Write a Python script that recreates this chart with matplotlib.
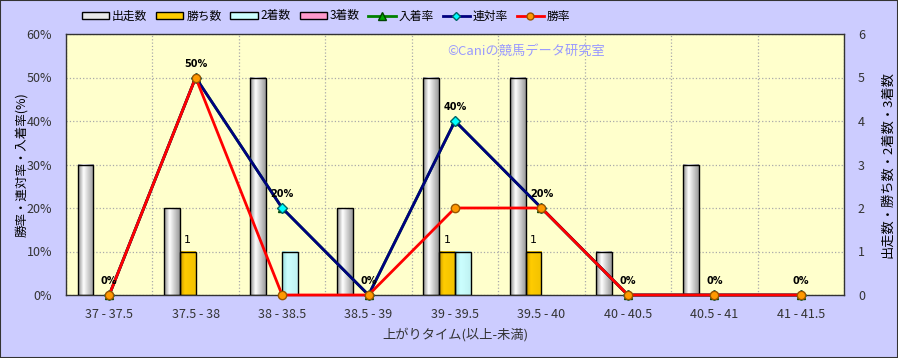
import matplotlib
matplotlib.use("Agg")
import matplotlib.pyplot as plt
import numpy as np
from matplotlib.colors import LinearSegmentedColormap
from matplotlib.patches import Rectangle, Patch
from matplotlib.lines import Line2D

plt.rcParams['font.family'] = ['Noto Sans CJK JP', 'DejaVu Sans']

categories = ["37 - 37.5", "37.5 - 38", "38 - 38.5", "38.5 - 39", "39 - 39.5",
              "39.5 - 40", "40 - 40.5", "40.5 - 41", "41 - 41.5"]
runs = [3, 2, 5, 2, 5, 5, 1, 3, 0]          # 出走数
wins = [0, 1, 0, 0, 1, 1, 0, 0, 0]          # 勝ち数
second = [0, 0, 1, 0, 1, 0, 0, 0, 0]        # 2着数
third = [0, 0, 0, 0, 0, 0, 0, 0, 0]         # 3着数
place_rate = [0, 50, 20, 0, 40, 20, 0, 0, 0]   # 入着率
rentai_rate = [0, 50, 20, 0, 40, 20, 0, 0, 0]  # 連対率
win_rate = [0, 50, 0, 0, 20, 20, 0, 0, 0]      # 勝率

BG = "#CCCCFF"
PLOT_BG = "#FFFFCC"
TXT = "#333333"

fig = plt.figure(figsize=(8.98, 3.58), dpi=100, facecolor=BG)
ax1 = fig.add_axes([66/898, 1-295/358, (844-66)/898, (295-34)/358])
ax1.set_facecolor(PLOT_BG)

n = len(categories)
x = np.arange(n)
bw = 0.183

series = [
    (runs, "出走数", ["#8c8c8c", "#ffffff", "#9a9a9a"], [0, 0.35, 1.0]),
    (wins, "勝ち数", ["#c89600", "#ffcc00", "#f2c200"], [0, 0.3, 1.0]),
    (second, "2着数", ["#99dddd", "#ccffff", "#bff2f2"], [0, 0.35, 1.0]),
    (third, "3着数", ["#cc6699", "#ff99cc", "#ee88bb"], [0, 0.35, 1.0]),
]
offsets = [-1.5, -0.5, 0.5, 1.5]
grad = np.linspace(0, 1, 64).reshape(1, -1)
for (vals, name, cols, pos), off in zip(series, offsets):
    cmap = LinearSegmentedColormap.from_list(name, list(zip(pos, cols)))
    for xi, v in zip(x, vals):
        if v <= 0:
            continue
        x0 = xi + off * bw - bw / 2
        ax1.imshow(grad, extent=[x0, x0 + bw, 0, v], aspect='auto', cmap=cmap,
                   zorder=2, interpolation='bilinear')
        ax1.add_patch(Rectangle((x0, 0), bw, v, fill=False, edgecolor='black',
                                linewidth=1.0, zorder=3))

# bar labels for wins
for xi, v in zip(x, wins):
    if v > 0:
        ax1.text(xi - 0.5 * bw, v + 0.15, str(v), ha='center', va='bottom',
                 fontsize=8, color='black', zorder=6, family='DejaVu Sans')

ax2 = ax1.twinx()

ax1.set_xlim(-0.5, n - 0.5)
ax1.set_ylim(0, 6)
ax1.yaxis.tick_right()
ax1.yaxis.set_label_position('right')
ax1.set_yticks(range(0, 7))
ax1.set_ylabel("出走数・勝ち数・2着数・3着数", fontsize=9.5, color='black', labelpad=11.5)
ax1.set_xticks(x)
ax1.set_xticklabels(categories, fontsize=9, color=TXT)
ax1.set_xticks(np.arange(-0.5, n, 1), minor=True)
ax1.tick_params(axis='x', which='major', length=0, pad=9)
ax1.tick_params(axis='x', which='minor', length=0)
ax1.tick_params(axis='y', labelsize=9, labelcolor=TXT, length=0, pad=10)
ax1.grid(axis='y', color='#aaaaaa', linestyle=':', linewidth=0.9, zorder=0)
ax1.grid(axis='x', which='minor', color='#aaaaaa', linestyle=':', linewidth=0.9, zorder=0)
ax1.set_axisbelow(True)
ax1.set_xlabel("上がりタイム(以上-未満)", fontsize=9.5, color=TXT, labelpad=5)
for s in ax1.spines.values():
    s.set_color('#333333')
    s.set_linewidth(1.0)

ax2.yaxis.tick_left()
ax2.yaxis.set_label_position('left')
ax2.set_ylim(0, 60)
ax2.set_yticks(range(0, 70, 10))
ax2.set_yticklabels([f"{v}%" for v in range(0, 70, 10)])
ax2.tick_params(axis='y', labelsize=9, labelcolor=TXT, length=0, pad=10)
ax2.set_ylabel("勝率・連対率・入着率(%)", fontsize=9, color='black', labelpad=-1)
for s in ax2.spines.values():
    s.set_visible(False)

ax2.plot(x, place_rate, color='#008000', linewidth=2, marker='^', markersize=6,
         markerfacecolor='#00aa00', markeredgecolor='#004400', zorder=4, clip_on=False)
ax2.plot(x, rentai_rate, color='#000080', linewidth=2, marker='D', markersize=5,
         markerfacecolor='#00ffff', markeredgecolor='#006666', zorder=5, clip_on=False)
ax2.plot(x, win_rate, color='#ff0000', linewidth=2, marker='o', markersize=6,
         markerfacecolor='#ff9900', markeredgecolor='#995500', zorder=6, clip_on=False)

for xi, v in zip(x, place_rate):
    ax2.text(xi, v + 2.0, f"{v}%", ha='center', va='bottom', fontsize=7,
             fontweight='bold', color='black', zorder=7, family='DejaVu Sans')

ax2.text(0.49, 0.935, "©Caniの競馬データ研究室", transform=ax2.transAxes,
         fontsize=9.5, color='#9999ff', ha='left', va='center', zorder=1)

handles = [
    Patch(facecolor='#e8e8e8', edgecolor='black', label='出走数'),
    Patch(facecolor='#ffcc00', edgecolor='black', label='勝ち数'),
    Patch(facecolor='#ccffff', edgecolor='black', label='2着数'),
    Patch(facecolor='#ff99cc', edgecolor='black', label='3着数'),
    Line2D([], [], color='#008000', linewidth=2, marker='^', markersize=6,
           markerfacecolor='#00aa00', markeredgecolor='#004400', label='入着率'),
    Line2D([], [], color='#000080', linewidth=2, marker='D', markersize=4,
           markerfacecolor='#00ffff', markeredgecolor='#006666', label='連対率'),
    Line2D([], [], color='#ff0000', linewidth=2, marker='o', markersize=5,
           markerfacecolor='#ff9900', markeredgecolor='#995500', label='勝率'),
]
fig.legend(handles=handles, loc='center left', bbox_to_anchor=(82/898, 1-16/358),
           ncol=7, frameon=False, fontsize=8.5, handlelength=2.3, handleheight=0.5,
           handletextpad=0.25, columnspacing=0.75, borderaxespad=0, borderpad=0)

fig.add_artist(Rectangle((0, 0), 1, 1, transform=fig.transFigure, fill=False,
                         edgecolor='#333333', linewidth=1.5))

fig.savefig("out.png", dpi=100, facecolor=BG)
